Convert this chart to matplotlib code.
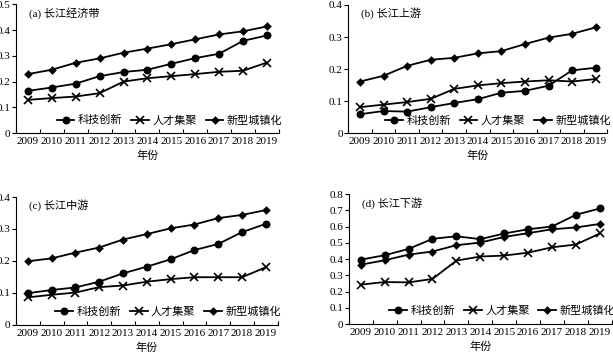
import matplotlib
matplotlib.use("Agg")
import matplotlib.pyplot as plt
import numpy as np

plt.rcParams['font.family'] = ['Liberation Serif', 'Noto Sans CJK SC']
plt.rcParams['axes.unicode_minus'] = False

# 数据
years = ['2009', '2010', '2011', '2012', '2013', '2014', '2015', '2016', '2017', '2018', '2019']
series_names = ['科技创新', '人才集聚', '新型城镇化']

a_tech = [0.164, 0.177, 0.192, 0.221, 0.237, 0.246, 0.269, 0.291, 0.308, 0.358, 0.379]
a_talent = [0.129, 0.136, 0.142, 0.155, 0.200, 0.213, 0.221, 0.229, 0.238, 0.242, 0.274]
a_urban = [0.229, 0.246, 0.273, 0.290, 0.312, 0.328, 0.345, 0.364, 0.383, 0.395, 0.414]

b_tech = [0.059, 0.069, 0.067, 0.081, 0.094, 0.106, 0.126, 0.132, 0.148, 0.196, 0.204]
b_talent = [0.081, 0.089, 0.097, 0.107, 0.138, 0.149, 0.156, 0.161, 0.165, 0.161, 0.169]
b_urban = [0.161, 0.179, 0.210, 0.229, 0.235, 0.249, 0.256, 0.278, 0.298, 0.310, 0.330]

c_tech = [0.099, 0.109, 0.117, 0.135, 0.161, 0.182, 0.205, 0.234, 0.253, 0.290, 0.316]
c_talent = [0.086, 0.094, 0.101, 0.118, 0.123, 0.135, 0.143, 0.149, 0.149, 0.149, 0.180]
c_urban = [0.199, 0.208, 0.226, 0.242, 0.267, 0.284, 0.302, 0.314, 0.334, 0.344, 0.359]

d_tech = [0.397, 0.424, 0.463, 0.525, 0.541, 0.523, 0.558, 0.584, 0.601, 0.673, 0.712]
d_talent = [0.243, 0.259, 0.257, 0.278, 0.391, 0.416, 0.422, 0.440, 0.473, 0.490, 0.558]
d_urban = [0.366, 0.393, 0.428, 0.447, 0.486, 0.502, 0.537, 0.560, 0.584, 0.595, 0.617]

panels = [
    ('(a) 长江经济带', [a_tech, a_talent, a_urban], 0.5, 0.1, [0.026, 0.625, 0.429, 0.363]),
    ('(b) 长江上游', [b_tech, b_talent, b_urban], 0.4, 0.1, [0.568, 0.625, 0.423, 0.361]),
    ('(c) 长江中游', [c_tech, c_talent, c_urban], 0.4, 0.1, [0.026, 0.085, 0.427, 0.360]),
    ('(d) 长江下游', [d_tech, d_talent, d_urban], 0.8, 0.1, [0.569, 0.087, 0.429, 0.366]),
]
markers = [('o', 4.5), ('x', 6), ('D', 3.2)]

fig = plt.figure(figsize=(6.13, 3.55), dpi=100)
x = np.arange(len(years))

for title, data, ymax, ystep, rect in panels:
    ax = fig.add_axes(rect)
    for vals, name, (m, ms) in zip(data, series_names, markers):
        ax.plot(x, vals, color='black', lw=1.3, marker=m, ms=ms,
                mew=1.2, label=name)
    ax.set_xlim(-0.5, len(years) - 0.5)
    ax.set_ylim(0, ymax)
    yt = np.arange(0, ymax + 1e-9, ystep)
    ax.set_yticks(yt)
    ax.set_yticklabels(['0' if v == 0 else f'{v:.1f}' for v in yt])
    ax.set_xticks(x)
    ax.set_xticklabels(years)
    ax.set_xticks(np.arange(-0.5, len(years)), minor=True)
    ax.tick_params(axis='x', which='major', length=0, labelsize=8, pad=3)
    ax.tick_params(axis='x', which='minor', direction='in', length=3, width=0.8)
    ax.tick_params(axis='y', direction='out', length=3, width=0.8, labelsize=8, pad=1)
    for s in ['top', 'right']:
        ax.spines[s].set_visible(False)
    for s in ['left', 'bottom']:
        ax.spines[s].set_linewidth(0.8)
    ax.set_xlabel('年份', fontsize=8, labelpad=3)
    ax.text(0.05, 0.98, title, transform=ax.transAxes, fontsize=8, va='top', ha='left')
    ax.legend(loc='center right', bbox_to_anchor=(1.03, 0.1), ncol=3, frameon=False,
              fontsize=8, handlelength=1.6, handletextpad=0.3, columnspacing=0.8,
              borderaxespad=0)

fig.savefig('out.png', dpi=100)
